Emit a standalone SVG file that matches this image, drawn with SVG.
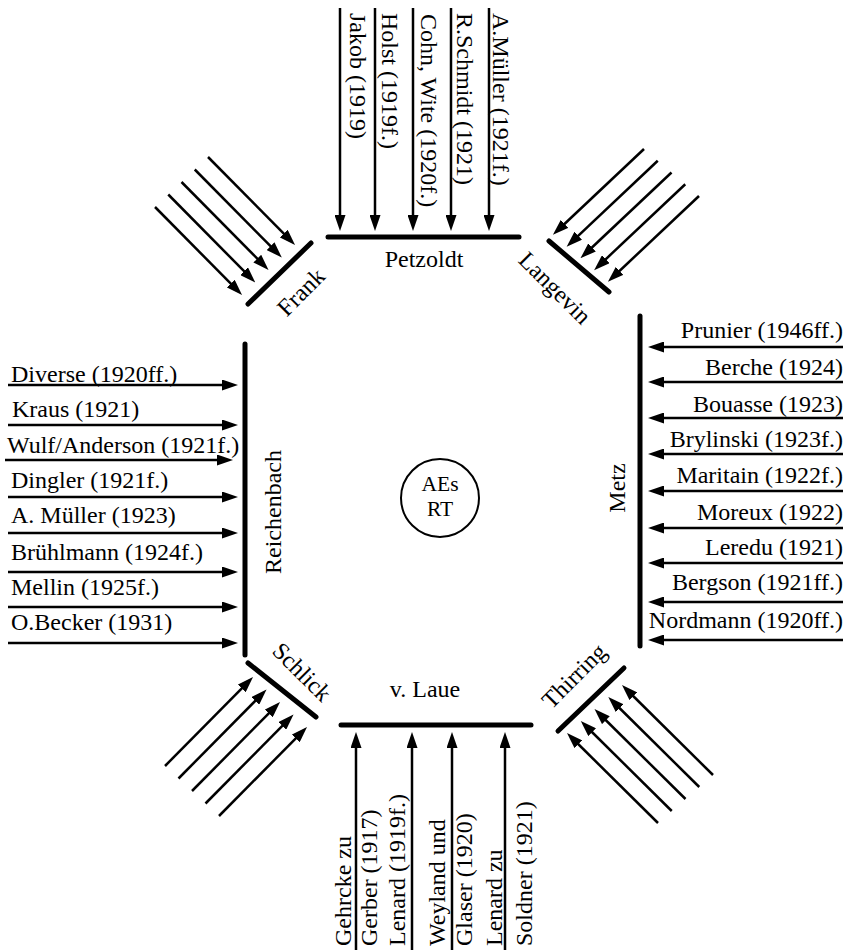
<svg xmlns="http://www.w3.org/2000/svg" width="850" height="950" viewBox="0 0 850 950">
<style>
text{font-family:"Liberation Serif","Times New Roman",serif;font-size:24px;fill:#000}
.bar{stroke:#000;stroke-width:5;stroke-linecap:round}
.arr{stroke:#000;stroke-width:2.5;fill:none;marker-end:url(#ah)}
.mid{text-anchor:middle}
.end{text-anchor:end}
.c{font-size:21.5px}
</style>
<defs>
<marker id="ah" markerUnits="userSpaceOnUse" viewBox="0 0 16 11" markerWidth="16" markerHeight="11" refX="6" refY="5.5" orient="auto">
<path d="M0,0 L16,5.5 L0,11 z" fill="#000"/>
</marker>
</defs>
<rect width="850" height="950" fill="#fff"/>

<g id="center">
<circle cx="440" cy="498" r="39" fill="none" stroke="#000" stroke-width="2"/>
<text x="440" y="491" class="mid c">AEs</text>
<text x="440" y="516" class="mid c">RT</text>
</g>

<g id="Petzoldt">
<line class="bar" x1="328" y1="237" x2="519" y2="237"/>
<text x="424" y="267" class="mid">Petzoldt</text>
</g>
<g id="vLaue">
<line class="bar" x1="341" y1="725" x2="531" y2="725"/>
<text x="425" y="697" class="mid">v. Laue</text>
</g>
<g id="Reichenbach">
<line class="bar" x1="245" y1="344" x2="245" y2="655"/>
<text transform="translate(281,512) rotate(-90)" class="mid">Reichenbach</text>
</g>
<g id="Metz">
<line class="bar" x1="640" y1="316" x2="640" y2="646"/>
<text transform="translate(625,488) rotate(-90)" class="mid">Metz</text>
</g>
<g id="Frank">
<line class="bar" x1="248" y1="304" x2="311" y2="243"/>
<text transform="translate(301,292) rotate(-45)" x="0" y="8" class="mid">Frank</text>
</g>
<g id="Langevin">
<line class="bar" x1="549" y1="241" x2="609" y2="292"/>
<text transform="translate(555,288) rotate(45)" x="0" y="8" class="mid">Langevin</text>
</g>
<g id="Schlick">
<line class="bar" x1="248" y1="663" x2="316" y2="717"/>
<text transform="translate(302,672) rotate(45)" x="0" y="8" class="mid">Schlick</text>
</g>
<g id="Thirring">
<line class="bar" x1="558" y1="731" x2="624" y2="668"/>
<text transform="translate(574,676) rotate(-45)" x="0" y="8" class="mid">Thirring</text>
</g>

<g id="connectors">
<!-- top, into Petzoldt -->
<line class="arr" x1="340" y1="8" x2="340" y2="221"/>
<line class="arr" x1="375" y1="8" x2="375" y2="221"/>
<line class="arr" x1="413" y1="8" x2="413" y2="221"/>
<line class="arr" x1="451" y1="8" x2="451" y2="221"/>
<line class="arr" x1="489" y1="8" x2="489" y2="221"/>
<text transform="translate(349.5,13) rotate(90)">Jakob (1919)</text>
<text transform="translate(382,13) rotate(90)">Holst (1919f.)</text>
<text transform="translate(421,14) rotate(90)">Cohn, Wite (1920f.)</text>
<text transform="translate(457,13) rotate(90)">R.Schmidt (1921)</text>
<text transform="translate(492.5,13) rotate(90)">A.Müller (1921f.)</text>

<!-- left, into Reichenbach -->
<line class="arr" x1="8" y1="385" x2="228" y2="385"/>
<line class="arr" x1="8" y1="425" x2="228" y2="425"/>
<line class="arr" x1="5" y1="460" x2="223" y2="460"/>
<line class="arr" x1="8" y1="497" x2="228" y2="497"/>
<line class="arr" x1="8" y1="533" x2="228" y2="533"/>
<line class="arr" x1="8" y1="572" x2="228" y2="572"/>
<line class="arr" x1="8" y1="607" x2="228" y2="607"/>
<line class="arr" x1="8" y1="643" x2="228" y2="643"/>
<text x="11" y="382">Diverse (1920ff.)</text>
<text x="12" y="417">Kraus (1921)</text>
<text x="7" y="453">Wulf/Anderson (1921f.)</text>
<text x="11" y="488">Dingler (1921f.)</text>
<text x="11" y="523">A. Müller (1923)</text>
<text x="11" y="560">Brühlmann (1924f.)</text>
<text x="11" y="595">Mellin (1925f.)</text>
<text x="11" y="630">O.Becker (1931)</text>

<!-- right, into Metz -->
<line class="arr" x1="843" y1="347" x2="658" y2="347"/>
<line class="arr" x1="843" y1="382" x2="658" y2="382"/>
<line class="arr" x1="843" y1="418" x2="658" y2="418"/>
<line class="arr" x1="843" y1="454" x2="658" y2="454"/>
<line class="arr" x1="843" y1="491" x2="658" y2="491"/>
<line class="arr" x1="843" y1="528" x2="658" y2="528"/>
<line class="arr" x1="843" y1="563" x2="658" y2="563"/>
<line class="arr" x1="843" y1="602" x2="658" y2="602"/>
<line class="arr" x1="843" y1="640" x2="658" y2="640"/>
<text x="843" y="338" class="end">Prunier (1946ff.)</text>
<text x="843" y="375" class="end">Berche (1924)</text>
<text x="843" y="412" class="end">Bouasse (1923)</text>
<text x="843" y="447" class="end">Brylinski (1923f.)</text>
<text x="843" y="483" class="end">Maritain (1922f.)</text>
<text x="843" y="520" class="end">Moreux (1922)</text>
<text x="843" y="555" class="end">Leredu (1921)</text>
<text x="843" y="590" class="end">Bergson (1921ff.)</text>
<text x="843" y="628" class="end">Nordmann (1920ff.)</text>

<!-- bottom, into v. Laue -->
<line class="arr" x1="356" y1="950" x2="356" y2="742"/>
<line class="arr" x1="412" y1="950" x2="412" y2="742"/>
<line class="arr" x1="452" y1="950" x2="452" y2="742"/>
<line class="arr" x1="505" y1="950" x2="505" y2="742"/>
<text transform="translate(351,946) rotate(-90)">Gehrcke zu</text>
<text transform="translate(377,946) rotate(-90)">Gerber (1917)</text>
<text transform="translate(405,946) rotate(-90)">Lenard (1919f.)</text>
<text transform="translate(445,946) rotate(-90)">Weyland und</text>
<text transform="translate(472,946) rotate(-90)">Glaser (1920)</text>
<text transform="translate(502,946) rotate(-90)">Lenard zu</text>
<text transform="translate(532,946) rotate(-90)">Soldner (1921)</text>

<!-- Frank -->
<line class="arr" x1="155" y1="207" x2="235" y2="287.9"/>
<line class="arr" x1="168.25" y1="194.5" x2="248.25" y2="275.4"/>
<line class="arr" x1="181.5" y1="182" x2="261.5" y2="262.9"/>
<line class="arr" x1="194.75" y1="169.5" x2="274.75" y2="250.4"/>
<line class="arr" x1="208" y1="157" x2="288" y2="237.9"/>

<!-- Langevin -->
<line class="arr" x1="644" y1="149" x2="560.2" y2="228"/>
<line class="arr" x1="657.75" y1="160.75" x2="573.9" y2="239.8"/>
<line class="arr" x1="671.5" y1="172.5" x2="587.7" y2="251.5"/>
<line class="arr" x1="685.25" y1="184.25" x2="601.4" y2="263.3"/>
<line class="arr" x1="699" y1="196" x2="615.2" y2="275"/>

<!-- Schlick -->
<line class="arr" x1="165" y1="766" x2="246" y2="684.1"/>
<line class="arr" x1="178.5" y1="778.5" x2="259.5" y2="696.6"/>
<line class="arr" x1="192" y1="791" x2="273" y2="709.1"/>
<line class="arr" x1="205.5" y1="803.5" x2="286.5" y2="721.6"/>
<line class="arr" x1="219" y1="816" x2="300" y2="734.1"/>

<!-- Thirring -->
<line class="arr" x1="658" y1="823" x2="574.1" y2="740"/>
<line class="arr" x1="671.75" y1="811" x2="587.9" y2="728"/>
<line class="arr" x1="685.5" y1="799" x2="601.6" y2="716"/>
<line class="arr" x1="699.25" y1="787" x2="615.4" y2="704"/>
<line class="arr" x1="713" y1="775" x2="629.1" y2="692"/>
</g>
</svg>
